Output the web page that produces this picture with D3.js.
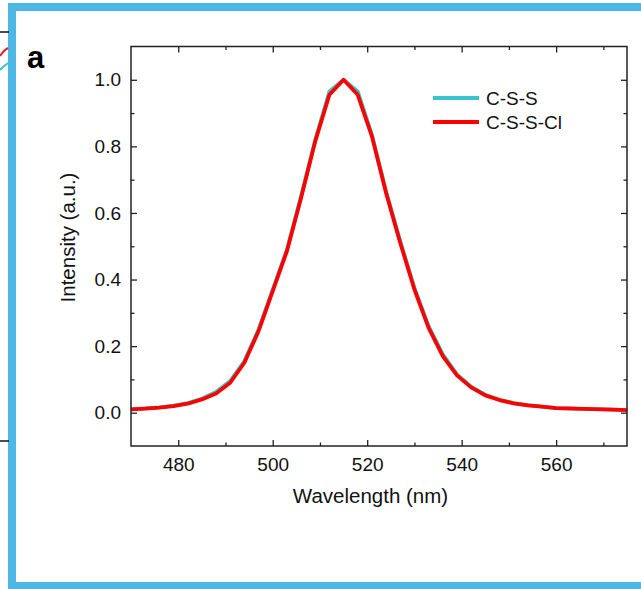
<!DOCTYPE html>
<html>
<head>
<meta charset="utf-8">
<script src="https://cdn.jsdelivr.net/npm/d3@7"></script>
<style>
  body { margin: 0; background: #fff; }
  svg { display: block; }
  .axis text { font-family: "Liberation Sans", Arial, sans-serif; font-size: 19px; fill: #111; }
  .axis path { display: none; }
  .axis line { stroke: #222; stroke-width: 1.3; }
  .axisLabel { font-family: "Liberation Sans", Arial, sans-serif; font-size: 20.5px; fill: #111; }
  .legendText { font-family: "Liberation Sans", Arial, sans-serif; font-size: 19px; fill: #111; }
</style>
</head>
<body>
<div class="chart"></div>
<script>
// wavelength (nm) shared by both spectra
var wavelengths = [470, 473, 476, 479, 482, 485, 488, 491, 494, 497, 500, 503, 506, 509, 512, 515,
  518, 521, 524, 527, 530, 533, 536, 539, 542, 545, 548, 551, 554, 557, 560, 564, 568, 572, 575];

var cssValues = [0.010, 0.013, 0.016, 0.021, 0.029, 0.042, 0.062, 0.095, 0.155, 0.250, 0.370, 0.490,
  0.650, 0.820, 0.965, 1.000, 0.965, 0.835, 0.665, 0.515, 0.375, 0.260, 0.175, 0.115, 0.078,
  0.054, 0.039, 0.029, 0.023, 0.018, 0.014, 0.012, 0.011, 0.009, 0.008];

var csssclValues = [0.010, 0.012, 0.015, 0.020, 0.027, 0.040, 0.058, 0.090, 0.150, 0.245, 0.365, 0.485,
  0.645, 0.815, 0.955, 1.000, 0.955, 0.830, 0.660, 0.510, 0.370, 0.255, 0.170, 0.112, 0.076,
  0.052, 0.038, 0.028, 0.022, 0.018, 0.014, 0.012, 0.011, 0.009, 0.008];

var seriesNames = ["C-S-S", "C-S-S-Cl"];
var seriesColors = ["#35c5cb", "#ff0000"];

var xMajorTicks = [480, 500, 520, 540, 560];
var xMinorTicks = [490, 510, 530, 550, 570];
var yMajorTicks = [0.0, 0.2, 0.4, 0.6, 0.8, 1.0];
var yMinorTicks = [0.1, 0.3, 0.5, 0.7, 0.9];

var baseWidth = 641, baseHeight = 589;
var margin = { top: 46.5, right: 14, bottom: 143, left: 131 },
  width = baseWidth - margin.left - margin.right,
  height = baseHeight - margin.top - margin.bottom;

var svg = d3.select(".chart")
  .append("svg")
  .attr("width", baseWidth)
  .attr("height", baseHeight);

// frame around the panel
svg.append("rect")
  .attr("x", 12).attr("y", 7)
  .attr("width", 660).attr("height", 579)
  .attr("fill", "none")
  .attr("stroke", "#4db8e6")
  .attr("stroke-width", 8);

// bits of the neighbouring panel showing at the left edge
svg.append("line").attr("x1", 0).attr("x2", 9).attr("y1", 32).attr("y2", 32)
  .attr("stroke", "#111").attr("stroke-width", 1.5);
svg.append("line").attr("x1", 0).attr("x2", 9).attr("y1", 441).attr("y2", 441)
  .attr("stroke", "#111").attr("stroke-width", 1.5);
svg.append("path").attr("d", "M0,56 Q4,50 8,48").attr("fill", "none")
  .attr("stroke", "#e0202a").attr("stroke-width", 2);
svg.append("path").attr("d", "M0,70 Q4,66 8,63").attr("fill", "none")
  .attr("stroke", "#35c5cb").attr("stroke-width", 2);

// panel letter
svg.append("text")
  .attr("x", 27).attr("y", 68)
  .attr("font-family", "Liberation Sans, Arial, sans-serif")
  .attr("font-weight", "bold")
  .attr("font-size", 31)
  .attr("fill", "#000")
  .text("a");

var chart = svg.append("g")
  .attr("transform", "translate(" + margin.left + "," + margin.top + ")");

var xScale = d3.scaleLinear().domain([470, 575]).range([0, width]);
var yScale = d3.scaleLinear().domain([-0.1, 1.1]).range([height, 0]);

// axes, ticks pointing inward
chart.append("g")
  .attr("class", "x axis")
  .attr("transform", "translate(0," + height + ")")
  .call(d3.axisBottom(xScale).tickValues(xMajorTicks).tickSizeInner(-6).tickSizeOuter(0).tickPadding(12).tickFormat(d3.format("d")));
chart.append("g")
  .attr("class", "x axis")
  .attr("transform", "translate(0," + height + ")")
  .call(d3.axisBottom(xScale).tickValues(xMinorTicks).tickSizeInner(-3.5).tickSizeOuter(0).tickFormat(""));
chart.append("g")
  .attr("class", "x axis")
  .call(d3.axisTop(xScale).tickValues(xMajorTicks).tickSizeInner(-6).tickSizeOuter(0).tickFormat(""));
chart.append("g")
  .attr("class", "x axis")
  .call(d3.axisTop(xScale).tickValues(xMinorTicks).tickSizeInner(-3.5).tickSizeOuter(0).tickFormat(""));

chart.append("g")
  .attr("class", "y axis")
  .call(d3.axisLeft(yScale).tickValues(yMajorTicks).tickSizeInner(-6).tickSizeOuter(0).tickPadding(10).tickFormat(d3.format(".1f")));
chart.append("g")
  .attr("class", "y axis")
  .call(d3.axisLeft(yScale).tickValues(yMinorTicks).tickSizeInner(-3.5).tickSizeOuter(0).tickFormat(""));
chart.append("g")
  .attr("class", "y axis")
  .attr("transform", "translate(" + width + ",0)")
  .call(d3.axisRight(yScale).tickValues(yMajorTicks).tickSizeInner(-6).tickSizeOuter(0).tickFormat(""));
chart.append("g")
  .attr("class", "y axis")
  .attr("transform", "translate(" + width + ",0)")
  .call(d3.axisRight(yScale).tickValues(yMinorTicks).tickSizeInner(-3.5).tickSizeOuter(0).tickFormat(""));

// spectra
var line = d3.line()
  .x(function(d) { return xScale(d[0]); })
  .y(function(d) { return yScale(d[1]); });

[cssValues, csssclValues].forEach(function(vals, i) {
  chart.append("path")
    .datum(wavelengths.map(function(w, j) { return [w, vals[j]]; }))
    .attr("fill", "none")
    .attr("stroke", seriesColors[i])
    .attr("stroke-width", 3.8)
    .attr("stroke-linejoin", "round")
    .attr("d", line);
});

// plot box
chart.append("rect")
  .attr("width", width).attr("height", height)
  .attr("fill", "none")
  .attr("stroke", "#222")
  .attr("stroke-width", 1.5);

// axis titles
chart.append("text")
  .attr("class", "axisLabel")
  .attr("x", 239.5)
  .attr("y", height + 57)
  .attr("text-anchor", "middle")
  .text("Wavelength (nm)");

chart.append("text")
  .attr("class", "axisLabel")
  .attr("transform", "rotate(-90)")
  .attr("x", -191)
  .attr("y", -56)
  .attr("text-anchor", "middle")
  .text("Intensity (a.u.)");

// legend
var legend = chart.selectAll(".legend")
  .data(seriesNames)
  .enter()
  .append("g")
  .attr("class", "legend")
  .attr("transform", function(d, i) { return "translate(302," + (51.5 + i * 24) + ")"; });

legend.append("line")
  .attr("x1", 0).attr("x2", 46)
  .attr("stroke", function(d, i) { return seriesColors[i]; })
  .attr("stroke-width", 4);

legend.append("text")
  .attr("class", "legendText")
  .attr("x", 53)
  .attr("y", 7)
  .text(function(d) { return d; });
</script>
</body>
</html>
